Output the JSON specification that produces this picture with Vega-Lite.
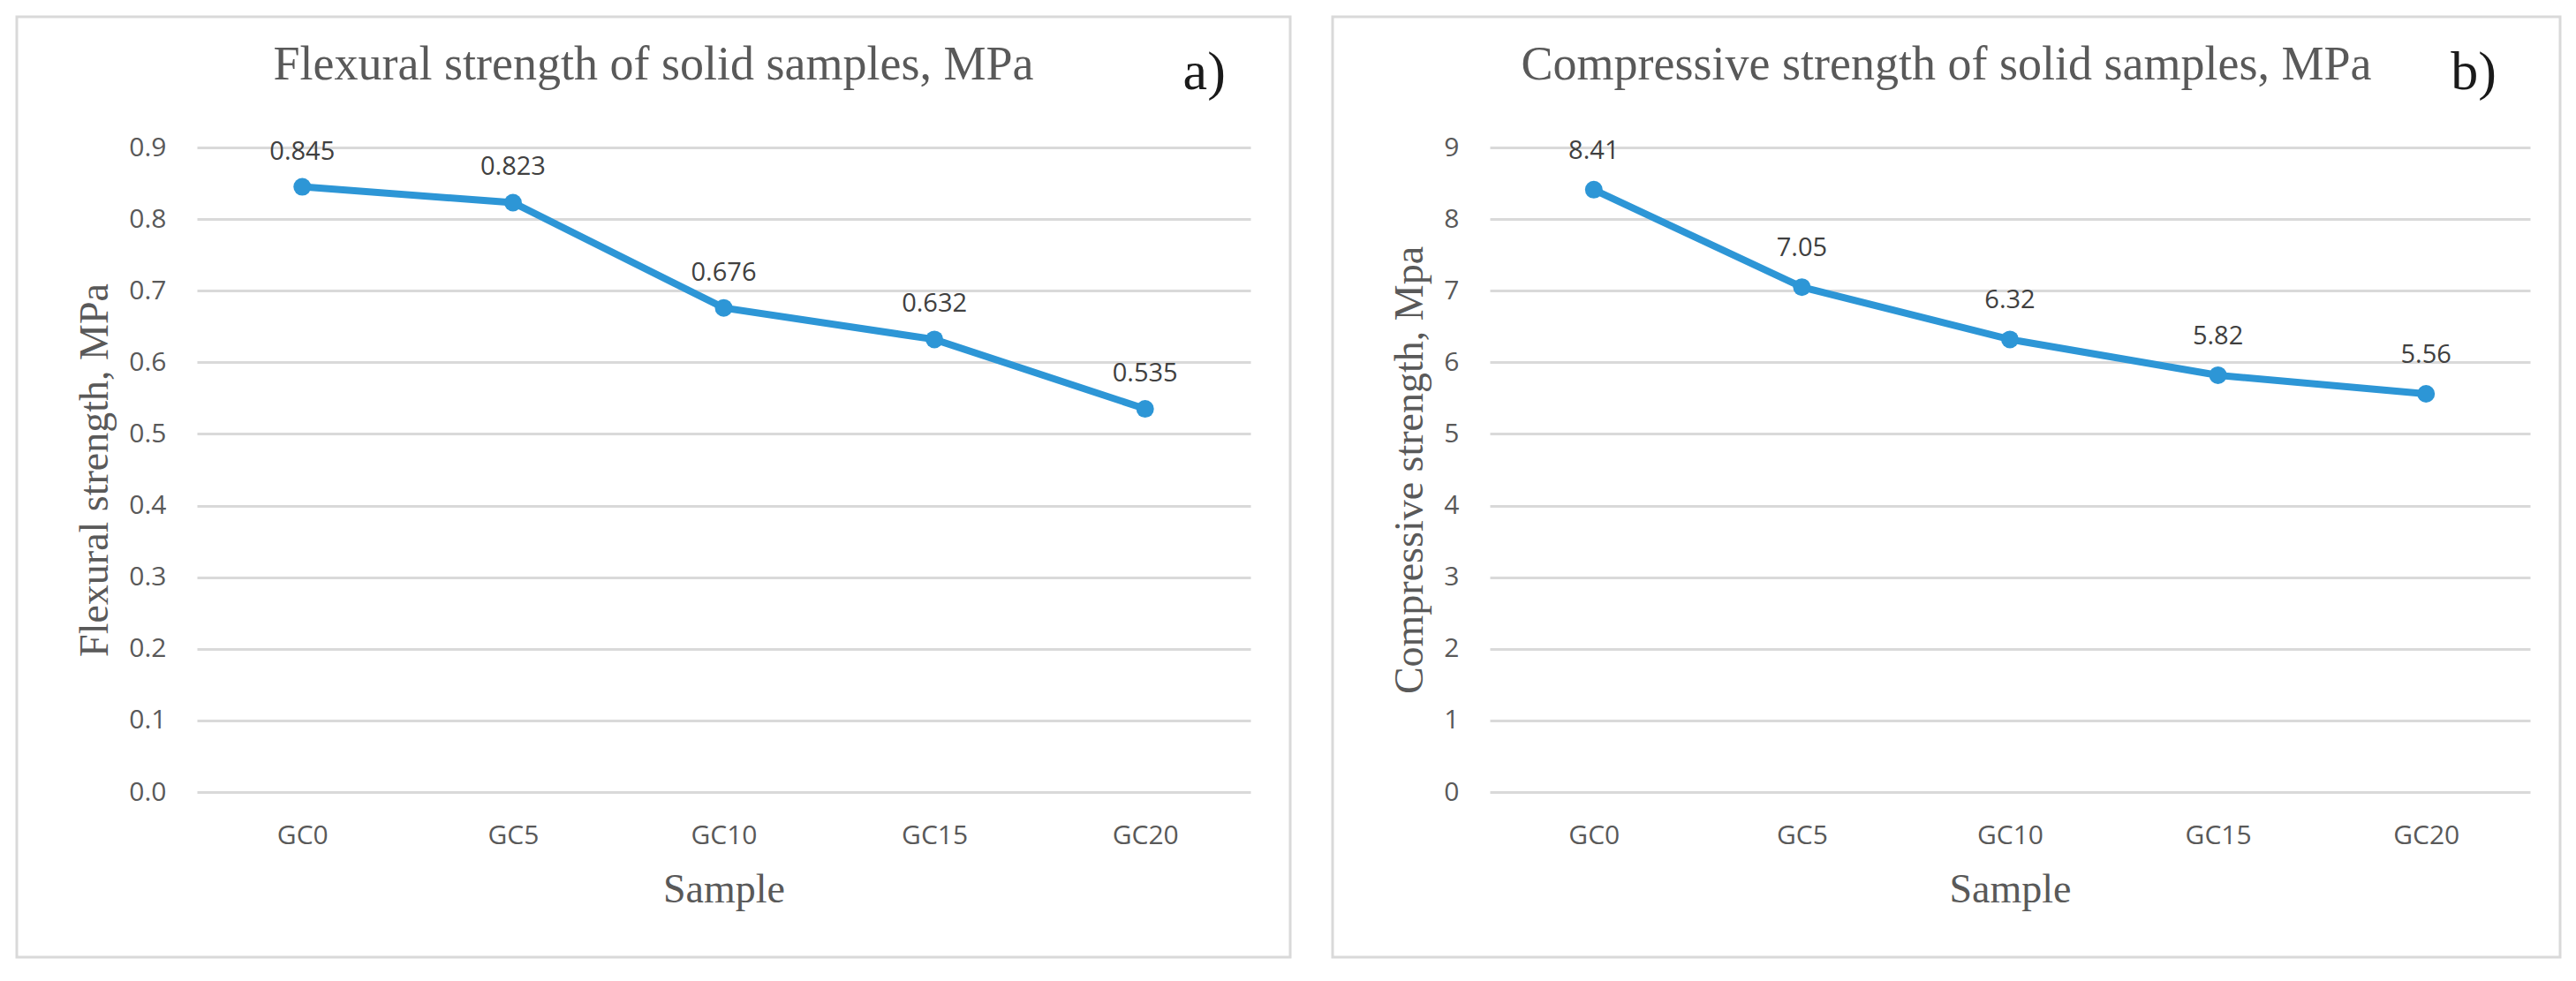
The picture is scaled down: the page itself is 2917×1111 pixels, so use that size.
{
  "$schema": "https://vega.github.io/schema/vega-lite/v6.json",
  "background": "white",
  "padding": {"left": 17, "top": 17, "right": 0, "bottom": 0},
  "spacing": 44,
  "datasets": {
    "flexural": [
      {"sample": "GC0", "value": 0.845},
      {"sample": "GC5", "value": 0.823},
      {"sample": "GC10", "value": 0.676},
      {"sample": "GC15", "value": 0.632},
      {"sample": "GC20", "value": 0.535}
    ],
    "compressive": [
      {"sample": "GC0", "value": 8.41},
      {"sample": "GC5", "value": 7.05},
      {"sample": "GC10", "value": 6.32},
      {"sample": "GC15", "value": 5.82},
      {"sample": "GC20", "value": 5.56}
    ],
    "labelA": [{"panel": "a)"}],
    "labelB": [{"panel": "b)"}]
  },
  "config": {
    "view": {"stroke": "#d9d9d9", "strokeWidth": 3},
    "axis": {
      "labelFont": "Open Sans",
      "labelFontSize": 30,
      "labelColor": "#595959",
      "titleFont": "Liberation Serif",
      "titleFontSize": 46,
      "titleFontWeight": "normal",
      "titleColor": "#595959",
      "domain": false,
      "ticks": false
    },
    "title": {
      "font": "Liberation Serif",
      "fontSize": 54,
      "fontWeight": "normal",
      "color": "#595959",
      "anchor": "middle",
      "frame": "group",
      "baseline": "alphabetic",
      "offset": -82
    }
  },
  "hconcat": [
    {
      "width": 1442,
      "height": 1065,
      "title": {"text": "Flexural strength of solid samples, MPa"},
      "data": {"name": "flexural"},
      "layer": [
        {
          "mark": {"type": "line", "color": "#2D96D6", "strokeWidth": 8},
          "encoding": {
            "x": {
              "field": "sample",
              "type": "ordinal",
              "scale": {"type": "point", "domain": ["GC0", "GC5", "GC10", "GC15", "GC20"], "padding": 0.5, "range": [204, 1397]},
              "axis": {"title": "Sample", "orient": "bottom", "offset": -187, "grid": false, "labelPadding": 34, "titlePadding": 24, "labelAngle": 0}
            },
            "y": {
              "field": "value",
              "type": "quantitative",
              "scale": {"domain": [0, 0.9], "range": [878, 148], "nice": false, "zero": false},
              "axis": {"title": "Flexural strength, MPa", "orient": "left", "offset": -204, "grid": true, "gridColor": "#d9d9d9", "gridWidth": 3, "values": [0, 0.1, 0.2, 0.3, 0.4, 0.5, 0.6, 0.7, 0.8, 0.9], "format": ".1f", "labelPadding": 35, "titlePadding": 14}
            }
          }
        },
        {
          "mark": {"type": "point", "filled": true, "size": 400, "color": "#2D96D6", "opacity": 1},
          "encoding": {
            "x": {"field": "sample", "type": "ordinal"},
            "y": {"field": "value", "type": "quantitative"}
          }
        },
        {
          "mark": {"type": "text", "dy": -40, "font": "Open Sans", "fontSize": 29, "color": "#404040", "baseline": "middle"},
          "encoding": {
            "x": {"field": "sample", "type": "ordinal"},
            "y": {"field": "value", "type": "quantitative"},
            "text": {"field": "value", "type": "quantitative", "format": ".3f"}
          }
        },
        {
          "data": {"name": "labelA"},
          "mark": {"type": "text", "font": "Liberation Serif", "fontSize": 62, "color": "#1a1a1a", "align": "center", "baseline": "alphabetic", "dx": 67, "dy": -66},
          "encoding": {
            "x": {"datum": "GC20", "type": "ordinal"},
            "y": {"datum": 0.9, "type": "quantitative"},
            "text": {"field": "panel"}
          }
        }
      ]
    },
    {
      "width": 1390,
      "height": 1065,
      "title": {"text": "Compressive strength of solid samples, MPa"},
      "data": {"name": "compressive"},
      "layer": [
        {
          "mark": {"type": "line", "color": "#2D96D6", "strokeWidth": 8},
          "encoding": {
            "x": {
              "field": "sample",
              "type": "ordinal",
              "scale": {"type": "point", "domain": ["GC0", "GC5", "GC10", "GC15", "GC20"], "padding": 0.5, "range": [178, 1356]},
              "axis": {"title": "Sample", "orient": "bottom", "offset": -187, "grid": false, "labelPadding": 34, "titlePadding": 24, "labelAngle": 0}
            },
            "y": {
              "field": "value",
              "type": "quantitative",
              "scale": {"domain": [0, 9], "range": [878, 148], "nice": false, "zero": false},
              "axis": {"title": "Compressive strength, Mpa", "orient": "left", "offset": -178, "grid": true, "gridColor": "#d9d9d9", "gridWidth": 3, "values": [0, 1, 2, 3, 4, 5, 6, 7, 8, 9], "format": "d", "labelPadding": 35, "titlePadding": 14}
            }
          }
        },
        {
          "mark": {"type": "point", "filled": true, "size": 400, "color": "#2D96D6", "opacity": 1},
          "encoding": {
            "x": {"field": "sample", "type": "ordinal"},
            "y": {"field": "value", "type": "quantitative"}
          }
        },
        {
          "mark": {"type": "text", "dy": -44, "font": "Open Sans", "fontSize": 29, "color": "#404040", "baseline": "middle"},
          "encoding": {
            "x": {"field": "sample", "type": "ordinal"},
            "y": {"field": "value", "type": "quantitative"},
            "text": {"field": "value", "type": "quantitative", "format": ".2f"}
          }
        },
        {
          "data": {"name": "labelB"},
          "mark": {"type": "text", "font": "Liberation Serif", "fontSize": 62, "color": "#1a1a1a", "align": "center", "baseline": "alphabetic", "dx": 54, "dy": -66},
          "encoding": {
            "x": {"datum": "GC20", "type": "ordinal"},
            "y": {"datum": 9, "type": "quantitative"},
            "text": {"field": "panel"}
          }
        }
      ]
    }
  ]
}
